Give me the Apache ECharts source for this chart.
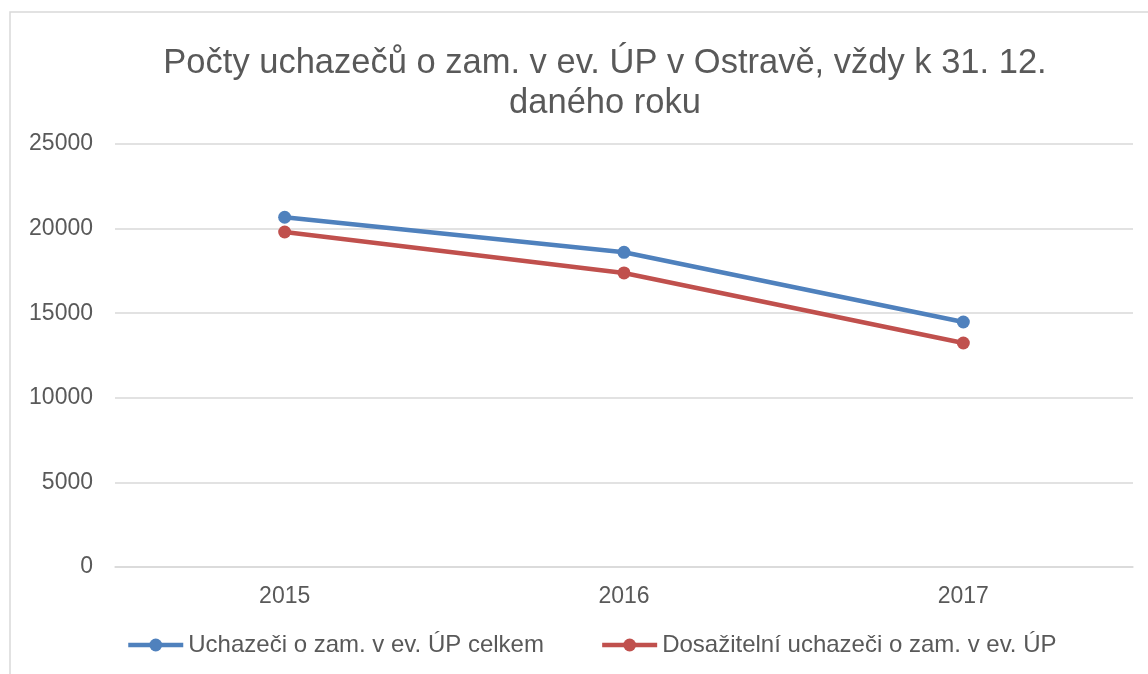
<!DOCTYPE html>
<html>
<head>
<meta charset="utf-8">
<script src="https://cdn.jsdelivr.net/npm/echarts@6/dist/echarts.min.js"></script>
<style>
  html, body { margin: 0; padding: 0; background: #fff; }
  #chart { width: 1148px; height: 674px; }
</style>
</head>
<body>
<div id="chart"></div>
<script>
// data
const years = ['2015', '2016', '2017']
const celkem = [20670, 18600, 14480]
const dosazitelni = [19800, 17380, 13240]
const seriesNames = ['Uchazeči o zam. v ev. ÚP celkem', 'Dosažitelní uchazeči o zam. v ev. ÚP']

const textColor = '#595959'
const font = 'Liberation Sans, Arial, sans-serif'

const chart = echarts.init(document.getElementById('chart'))

const option = {
  backgroundColor: '#fff',
  animation: false,
  color: ['#4F81BD', '#C0504D'],
  // rámeček grafu (oříznutý vpravo a dole)
  graphic: [{
    type: 'rect',
    shape: { x: 10, y: 12, width: 1200, height: 700 },
    style: { fill: 'none', stroke: '#d9d9d9', lineWidth: 1.5 },
    silent: true
  }],
  title: {
    text: 'Počty uchazečů o zam. v ev. ÚP v Ostravě, vždy k 31. 12.\ndaného roku',
    left: 600,
    top: 38,
    textAlign: 'center',
    textStyle: {
      color: textColor,
      fontFamily: font,
      fontWeight: 'normal',
      fontSize: 34.5,
      lineHeight: 40
    }
  },
  grid: {
    left: 115,
    right: 15,
    top: 144,
    bottom: 107
  },
  legend: {
    left: 121,
    bottom: 12,
    itemWidth: 55,
    itemHeight: 16,
    itemGap: 56,
    lineStyle: { width: 4.5 },
    textStyle: { color: textColor, fontFamily: font, fontSize: 24 },
    data: seriesNames
  },
  xAxis: {
    type: 'category',
    data: years,
    boundaryGap: true,
    axisLine: { lineStyle: { color: '#d9d9d9', width: 1.5 } },
    axisTick: { show: false },
    axisLabel: { color: textColor, fontFamily: font, fontSize: 23, margin: 18 }
  },
  yAxis: {
    type: 'value',
    min: 0,
    max: 25000,
    interval: 5000,
    axisLine: { show: false },
    axisTick: { show: false },
    splitLine: { lineStyle: { color: '#d9d9d9', width: 1.5 } },
    axisLabel: { color: textColor, fontFamily: font, fontSize: 23, margin: 22, formatter: v => String(v) }
  },
  series: [
    {
      name: seriesNames[0],
      type: 'line',
      data: celkem,
      symbol: 'circle',
      symbolSize: 13,
      lineStyle: { width: 4.5 }
    },
    {
      name: seriesNames[1],
      type: 'line',
      data: dosazitelni,
      symbol: 'circle',
      symbolSize: 13,
      lineStyle: { width: 4.5 }
    }
  ]
}

chart.setOption(option)
</script>
</body>
</html>
